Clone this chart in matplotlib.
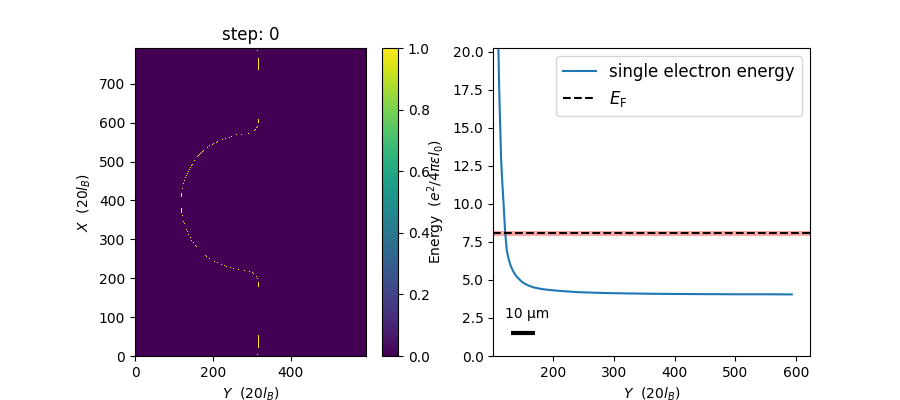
import matplotlib
matplotlib.use('Agg')
import matplotlib.pyplot as plt
import numpy as np

# occupation map: single bright cells (Y, X)
dot_y = [314, 311.4, 308.8, 306.2, 290.8, 274.4, 261.5, 248.7, 241.8, 231.5, 223.8, 213.4, 208.3, 203.1,
         198, 192.8, 187.7, 176.5, 173.9, 171.3, 168.8, 166.2, 163.6, 161, 154.2, 149, 146.4, 143.9,
         141.3, 138.7, 136.1, 133.6, 131, 128.4, 125.8, 123.2,
         123.2, 125.8, 128.4, 133.6, 136.1, 138.7, 143.9, 146.4, 151.5, 156.7, 159.3, 182.5, 185,
         192.8, 205.7, 210.9, 221.2, 228.9, 234, 244.4, 252.1, 266.6, 280.3, 293.2, 301, 303.6, 311.4, 314, 314, 314]
dot_x = [590.6, 587.2, 582.9, 580.3, 572.6, 570, 568.3, 564.9, 562.3, 559.7, 557.1, 552, 549.4, 546.8,
         543.4, 540.8, 536.5, 528.8, 526.2, 523.6, 521, 518.5, 515.9, 513.3, 503, 492.7, 490.1, 485,
         479.8, 474.7, 469.5, 464.3, 459.2, 451.4, 443.7, 430,
         361.3, 346, 340.7, 325.2, 320, 312.3, 303.7, 296, 291.7, 284, 281.4, 258.2, 255.6,
         250.5, 242.7, 240.2, 235, 232.4, 229.9, 227.3, 224.7, 222.1, 219.5, 217, 214.4, 211.8, 204.1, 198.9, 785.6, 4.8]

# vertical runs of bright cells: Y, X from, X to
run_y = [316.5, 316.5, 120.7, 120.7, 316.5, 316.5]
run_x0 = [735.8, 600.1, 409.4, 370, 179.2, 22.8]
run_x1 = [765.9, 608.7, 418, 380.2, 188.6, 52.9]

# single electron energy curve
curve_y = [108.8, 109.4, 110.5, 111.7, 113.8, 116, 117.6, 118.8, 120.4, 122, 123.2, 125, 127.5, 130.5, 134.1,
           138, 142.3, 147.5, 153.4, 160, 167, 175, 183.5, 197, 211, 240, 270, 300, 350, 400, 450, 500, 550, 593]
curve_e = [21, 20.24, 18, 16.07, 13, 11.3, 10.26, 9.39, 8.2, 7.5, 6.97, 6.6, 6.2, 5.85, 5.55,
           5.3, 5.11, 4.9, 4.74, 4.62, 4.52, 4.45, 4.39, 4.33, 4.28, 4.2, 4.16, 4.13, 4.1, 4.08, 4.07, 4.06, 4.06, 4.05]

fermi_energy = 8.09
fermi_width = [7.92, 8.24]
scale_bar_y = [130.2, 169.8]
scale_bar_e = [1.53, 1.53]

# one cell is one screen pixel
grid = np.zeros((308, 231))
cell_w = 594 / grid.shape[1]
cell_h = 792 / grid.shape[0]
for y, x in zip(dot_y, dot_x):
    grid[int(x / cell_h), int(y / cell_w)] = 1
for y, x0, x1 in zip(run_y, run_x0, run_x1):
    grid[int(x0 / cell_h):int(x1 / cell_h) + 1, int(y / cell_w)] = 1

fig = plt.figure(figsize=(9, 4), dpi=100)
ax1 = fig.add_axes([135 / 900, 1 - 356 / 400, 231 / 900, 308 / 400])
cax = fig.add_axes([382 / 900, 1 - 356 / 400, 16 / 900, 308 / 400])
ax2 = fig.add_axes([493.3 / 900, 1 - 356 / 400, 316.7 / 900, 308 / 400])

im = ax1.imshow(grid, origin='lower', extent=[0, 594, 0, 792], cmap='viridis', vmin=0, vmax=1,
                interpolation='none', aspect='auto')
ax1.set_title('step: 0')
ax1.set_xlabel(r'$Y$  ($20l_B$)')
ax1.set_ylabel(r'$X$  ($20l_B$)')
ax1.set_xticks([0, 200, 400])
ax1.set_yticks(np.arange(0, 800, 100))
fig.colorbar(im, cax=cax)

ax2.axhspan(fermi_width[0], fermi_width[1], color='red', alpha=0.35, lw=0)
ax2.plot(curve_y, curve_e, label='single electron energy')
ax2.axhline(fermi_energy, color='k', ls='--', label=r'$E_{\mathrm{F}}$')
ax2.plot(scale_bar_y, scale_bar_e, color='k', lw=3, solid_capstyle='butt')
ax2.text(157, 2.77, '10 µm', ha='center', va='center')
ax2.set_xlim(101, 623)
ax2.set_ylim(0, 20.26)
ax2.set_xticks([200, 300, 400, 500, 600])
ax2.set_xlabel(r'$Y$  ($20l_B$)')
ax2.set_ylabel(r'Energy  ($e^2/4\pi\epsilon l_0$)')
ax2.legend(loc='upper right', fontsize=12)

fig.savefig('out.png', dpi=100)
